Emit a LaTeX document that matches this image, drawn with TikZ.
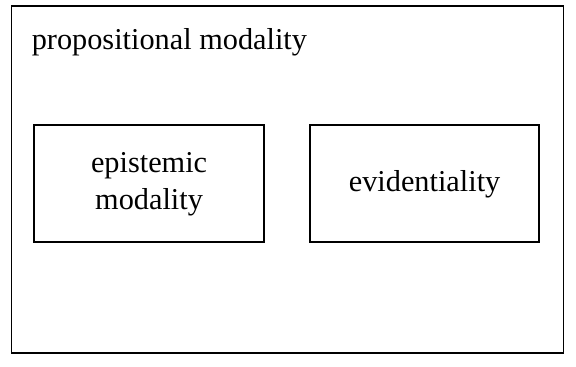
\documentclass[tikz,border=0pt]{standalone}
\usepackage{fontspec}
\setmainfont{Liberation Serif}
\begin{document}
\begin{tikzpicture}[x=1pt,y=-1pt,
  frame/.style={draw=black,line width=1.9pt},
  txt/.style={font=\fontsize{30.3}{37}\selectfont},
  label/.style={txt,anchor=base west,inner sep=0pt}]
\useasboundingbox (0,0) rectangle (576,367);
\draw[frame] (11.5,6.3) rectangle (563.5,353);
\node[label] (title) at (31.6,49) {propositional modality};
\draw[frame] (34.4,125) rectangle (263.8,242);
\node[txt,align=center] (epi) at (149.1,184) {epistemic\\modality};
\draw[frame] (310,125) rectangle (539.1,242);
\node[txt] (evi) at (424.55,184) {evidentiality};
\end{tikzpicture}
\end{document}
